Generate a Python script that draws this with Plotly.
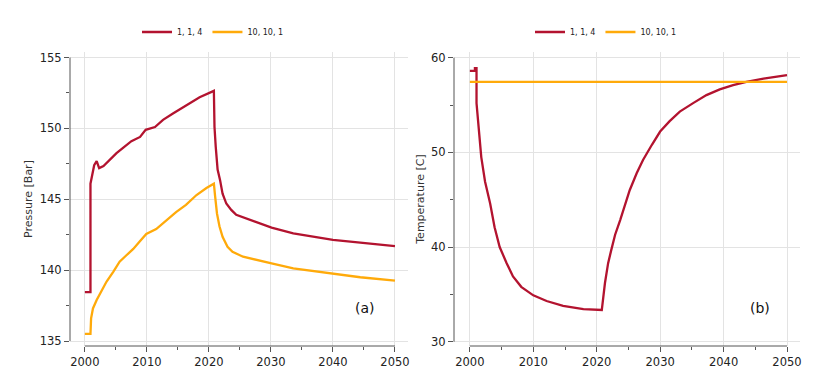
import plotly.graph_objects as go

# ---------------- data ----------------
series_names = ["1, 1, 4", "10, 10, 1"]

# (a) Pressure [Bar]
p_red_year = [2000.0, 2000.9, 2000.9, 2001.2, 2001.5, 2001.9, 2002.3, 2003.0, 2004.0, 2005.1,
              2006.2, 2007.5, 2008.9, 2009.8, 2011.3, 2012.6, 2014.2, 2015.9, 2017.5, 2018.5,
              2020.8, 2020.9, 2021.1, 2021.4, 2021.8, 2022.2, 2022.8, 2023.6, 2024.4, 2026.6,
              2030.1, 2033.6, 2037.4, 2040.0, 2044.4, 2050.0]
p_red_val = [138.45, 138.45, 146.1, 146.7, 147.4, 147.7, 147.2, 147.35, 147.8, 148.25,
             148.65, 149.1, 149.4, 149.9, 150.1, 150.6, 151.05, 151.5, 151.9, 152.2,
             152.65, 150.1, 148.7, 147.1, 146.35, 145.4, 144.7, 144.25, 143.9, 143.55,
             143.0, 142.6, 142.3, 142.13, 141.94, 141.7]

p_org_year = [2000.0, 2000.9, 2001.0, 2001.3, 2001.9, 2002.7, 2003.5, 2004.6, 2005.6, 2006.7,
              2007.8, 2008.8, 2009.9, 2011.5, 2013.1, 2014.7, 2016.3, 2018.0, 2019.6, 2020.8,
              2021.0, 2021.3, 2021.7, 2022.2, 2023.0, 2023.8, 2025.5, 2026.6, 2030.1, 2033.6,
              2037.4, 2040.0, 2044.4, 2050.0]
p_org_val = [135.5, 135.5, 136.6, 137.3, 137.9, 138.6, 139.2, 139.9, 140.6, 141.05,
             141.5, 142.0, 142.55, 142.9, 143.5, 144.1, 144.6, 145.3, 145.8, 146.1,
             145.2, 144.0, 143.1, 142.35, 141.65, 141.3, 140.95, 140.85, 140.48, 140.13,
             139.9, 139.73, 139.5, 139.26]

# (b) Temperature [C]
t_red_year = [2000.0, 2000.8, 2000.8, 2001.05, 2001.05, 2001.4, 2001.8, 2002.4, 2003.2, 2003.9,
              2004.7, 2005.8, 2006.8, 2008.1, 2010.0, 2012.1, 2014.7, 2017.9, 2020.8, 2021.3,
              2021.8, 2022.3, 2022.9, 2023.7, 2024.4, 2025.2, 2026.3, 2027.3, 2028.7, 2030.0,
              2031.5, 2033.1, 2035.2, 2037.3, 2039.4, 2041.5, 2043.6, 2046.3, 2050.0]
t_red_val = [58.6, 58.6, 58.9, 58.9, 55.2, 52.9, 49.5, 46.9, 44.6, 42.1,
             40.0, 38.3, 36.9, 35.8, 34.9, 34.3, 33.8, 33.45, 33.35, 36.2,
             38.3, 39.7, 41.3, 42.85, 44.4, 46.0, 47.8, 49.2, 50.8, 52.2,
             53.3, 54.3, 55.2, 56.05, 56.65, 57.1, 57.45, 57.8, 58.15]

t_org_year = [2000.0, 2050.0]
t_org_val = [57.45, 57.45]

x_ticks = [2000, 2010, 2020, 2030, 2040, 2050]
p_ticks = [135, 140, 145, 150, 155]
t_ticks = [30, 40, 50, 60]

RED = "#B3132F"
ORANGE = "#FFAA0A"
AXC = "#555555"
GRID = "#E3E3E3"
FONT = "DejaVu Sans"
TF = dict(family=FONT, size=11.5, color="#222")

fig = go.Figure()
fig.add_trace(go.Scatter(x=p_red_year, y=p_red_val, name=series_names[0], mode="lines",
                         line=dict(color=RED, width=2.3), xaxis="x", yaxis="y", legend="legend"))
fig.add_trace(go.Scatter(x=p_org_year, y=p_org_val, name=series_names[1], mode="lines",
                         line=dict(color=ORANGE, width=2.3), xaxis="x", yaxis="y", legend="legend"))
fig.add_trace(go.Scatter(x=t_red_year, y=t_red_val, name=series_names[0], mode="lines",
                         line=dict(color=RED, width=2.3), xaxis="x2", yaxis="y2", legend="legend2"))
fig.add_trace(go.Scatter(x=t_org_year, y=t_org_val, name=series_names[1], mode="lines",
                         line=dict(color=ORANGE, width=2.3), xaxis="x2", yaxis="y2", legend="legend2"))

W, H = 837, 387
yd = [(H - 346) / H, (H - 52) / H]

common_x = dict(range=[1997.6, 2052.1], tickvals=x_ticks, ticks="outside", ticklen=5,
                tickcolor=AXC, showline=False, showgrid=True, gridcolor=GRID, gridwidth=1,
                zeroline=False, tickfont=TF, automargin=False,
                minor=dict(dtick=5, tick0=2000, ticks="outside", ticklen=3, tickcolor=AXC, showgrid=False))

common_y = dict(ticks="outside", ticklen=5, tickcolor=AXC, showline=False, showgrid=True,
                gridcolor=GRID, zeroline=False, tickfont=TF, automargin=False)

fig.update_layout(
    width=W, height=H, margin=dict(l=0, r=0, t=0, b=0, autoexpand=False),
    paper_bgcolor="white", plot_bgcolor="white",
    font=dict(family=FONT, color="#222"),
    xaxis=dict(domain=[70 / W, 408 / W], anchor="y", **common_x),
    xaxis2=dict(domain=[454 / W, 800 / W], anchor="y2", **{**common_x, "range": [1997.5, 2052.05]}),
    yaxis=dict(domain=yd, anchor="x", range=[134.65, 155.39], tickvals=p_ticks, **common_y,
               minor=dict(dtick=2.5, tick0=135, ticks="outside", ticklen=3, tickcolor=AXC, showgrid=False),
               title=dict(text="Pressure [Bar]", font=dict(family=FONT, size=11, color="#333"), standoff=4)),
    yaxis2=dict(domain=yd, anchor="x2", range=[29.55, 60.6], tickvals=t_ticks, **common_y,
                minor=dict(dtick=5, tick0=30, ticks="outside", ticklen=3, tickcolor=AXC, showgrid=False),
                title=dict(text="Temperature [C]", font=dict(family=FONT, size=11, color="#333"), standoff=4)),
    legend=dict(orientation="h", x=137 / W, y=1 - 32 / H, xanchor="left", yanchor="middle",
                font=dict(family=FONT, size=8, color="#222"), bgcolor="rgba(0,0,0,0)"),
    legend2=dict(orientation="h", x=530 / W, y=1 - 32 / H, xanchor="left", yanchor="middle",
                 font=dict(family=FONT, size=8, color="#222"), bgcolor="rgba(0,0,0,0)"),
    annotations=[
        dict(text="(a)", x=0.908, y=0.095, xref="x domain", yref="y domain", showarrow=False,
             font=dict(family=FONT, size=14, color="#111")),
        dict(text="(b)", x=0.919, y=0.095, xref="x2 domain", yref="y2 domain", showarrow=False,
             font=dict(family=FONT, size=14, color="#111")),
    ],
    shapes=[
        dict(type="line", xref="x", yref="y domain", x0=x_ticks[0], x1=x_ticks[-1], y0=0, y1=0,
             line=dict(color=AXC, width=1)),
        dict(type="line", xref="x domain", yref="y", x0=0, x1=0, y0=p_ticks[0], y1=p_ticks[-1],
             line=dict(color=AXC, width=1)),
        dict(type="line", xref="x2", yref="y2 domain", x0=x_ticks[0], x1=x_ticks[-1], y0=0, y1=0,
             line=dict(color=AXC, width=1)),
        dict(type="line", xref="x2 domain", yref="y2", x0=0, x1=0, y0=t_ticks[0], y1=t_ticks[-1],
             line=dict(color=AXC, width=1)),
    ],
)

fig.write_html("out.html", config={"displayModeBar": False},
               post_script="document.body.style.margin='0px';")
